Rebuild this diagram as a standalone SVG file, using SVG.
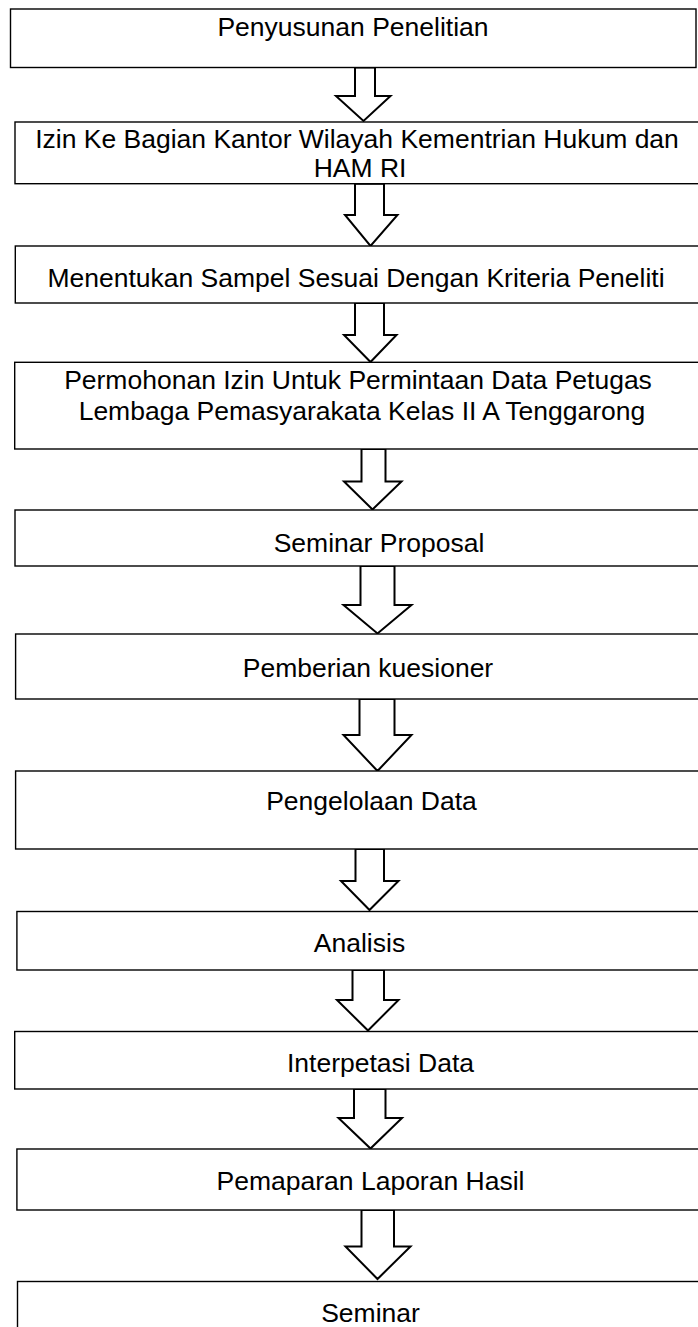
<svg xmlns="http://www.w3.org/2000/svg" width="698" height="1327" viewBox="0 0 698 1327">
<style>
.box{fill:#fff;stroke:#000;stroke-width:1.4}
.arr{fill:#fff;stroke:#000;stroke-width:2;stroke-linejoin:miter}
.t{font-family:"Liberation Sans",Arial,sans-serif;font-size:26.5px;fill:#000;text-anchor:middle}
</style>
<rect width="698" height="1327" fill="#fff"/>
<g id="connectors">
<polygon class="arr" points="355,67.5 375,67.5 375,96 390.5,96 363.5,121 336,96 355,96"/>
<polygon class="arr" points="355,183.7 384,183.7 384,215 397.5,215 370.5,246 345,215 355,215"/>
<polygon class="arr" points="355,303 384,303 384,335 396.5,335 370.5,362 344,335 355,335"/>
<polygon class="arr" points="361.5,449 385.5,449 385.5,481.5 401.5,481.5 372.5,509.5 344,481.5 361.5,481.5"/>
<polygon class="arr" points="360.5,566 394.5,566 394.5,605 411.5,605 377.5,633.5 343.5,605 360.5,605"/>
<polygon class="arr" points="359.5,699 394.5,699 394.5,735 411.5,735 377.5,771 343.5,735 359.5,735"/>
<polygon class="arr" points="355.5,849 384,849 384,881 398.5,881 369.5,910 341,881 355.5,881"/>
<polygon class="arr" points="352.5,970 384,970 384,1000 398.5,1000 368,1030.5 337,1000 352.5,1000"/>
<polygon class="arr" points="354,1089 385.5,1089 385.5,1118 402,1118 370.5,1148.5 338.5,1118 354,1118"/>
<polygon class="arr" points="361.5,1210 394,1210 394,1246.5 410.5,1246.5 377.5,1279 345.5,1246.5 361.5,1246.5"/>
</g>
<g id="n1"><rect class="box" x="10.5" y="9" width="685.5" height="58.5"/><text class="t" x="353" y="36">Penyusunan Penelitian</text></g>
<g id="n2"><rect class="box" x="15" y="122" width="690" height="61.7"/><text class="t" x="357" y="148">Izin Ke Bagian Kantor Wilayah Kementrian Hukum dan</text><text class="t" x="360" y="177">HAM RI</text></g>
<g id="n3"><rect class="box" x="15.3" y="246" width="690" height="57"/><text class="t" x="356" y="286.5">Menentukan Sampel Sesuai Dengan Kriteria Peneliti</text></g>
<g id="n4"><rect class="box" x="14.7" y="362.3" width="690" height="86.7"/><text class="t" x="358" y="389">Permohonan Izin Untuk Permintaan Data Petugas</text><text class="t" x="362" y="419.5">Lembaga Pemasyarakata Kelas II A Tenggarong</text></g>
<g id="n5"><rect class="box" x="15" y="510" width="690" height="56"/><text class="t" x="379" y="551.5">Seminar Proposal</text></g>
<g id="n6"><rect class="box" x="15.6" y="634" width="690" height="65"/><text class="t" x="368" y="677">Pemberian kuesioner</text></g>
<g id="n7"><rect class="box" x="15.6" y="771" width="690" height="78"/><text class="t" x="371.5" y="810">Pengelolaan Data</text></g>
<g id="n8"><rect class="box" x="16.9" y="911.5" width="690" height="58.5"/><text class="t" x="359.5" y="951.5">Analisis</text></g>
<g id="n9"><rect class="box" x="14.7" y="1031.5" width="690" height="57.5"/><text class="t" x="380.5" y="1071.5">Interpetasi Data</text></g>
<g id="n10"><rect class="box" x="16.9" y="1149" width="690" height="61"/><text class="t" x="370.5" y="1190">Pemaparan Laporan Hasil</text></g>
<g id="n11"><rect class="box" x="17.5" y="1281.5" width="690" height="60"/><text class="t" x="370.5" y="1321.5">Seminar</text></g>
</svg>
